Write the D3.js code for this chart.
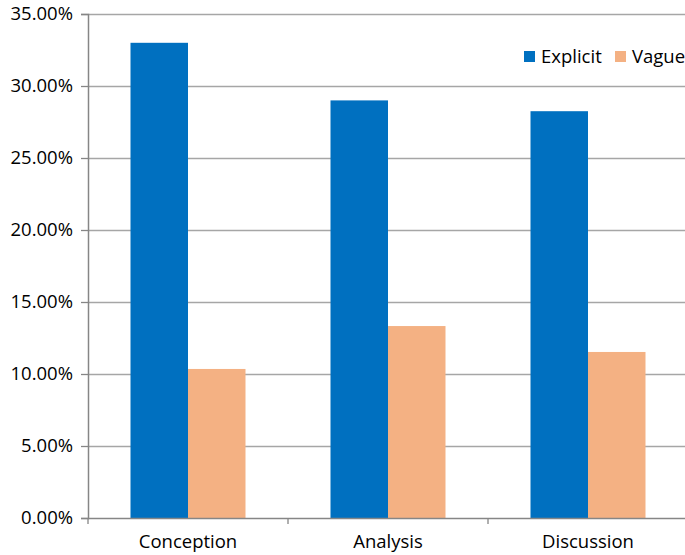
<!DOCTYPE html>
<html><head><meta charset="utf-8">
<script src="https://cdn.jsdelivr.net/npm/d3@7"></script>
<style>body{margin:0;background:#fff;overflow:hidden}svg{display:block}text{font-family:"Open Sans",Lato,sans-serif;fill:#000}</style>
</head><body>
<script>
const categories = ["Conception", "Analysis", "Discussion"];
const seriesNames = ["Explicit", "Vague"];
const explicitValues = [0.330, 0.290, 0.2825];
const vagueValues = [0.1035, 0.1333, 0.1153];
const yTicks = [0, 0.05, 0.10, 0.15, 0.20, 0.25, 0.30, 0.35];
const colors = ["#0070C0", "#F4B183"];

(function () {
const W = 685, H = 555, FS = "18.5px";
const mLeft = 88, mRight = 688, mTop = 14, mBottom = 518;
const svg = d3.select("body").append("svg").attr("width", W).attr("height", H);

const x0 = d3.scaleBand().domain(categories).range([mLeft, mRight]).paddingInner(0.425).paddingOuter(0.2125);
const x1 = d3.scaleBand().domain(seriesNames).range([0, x0.bandwidth()]);
const y = d3.scaleLinear().domain([0, 0.35]).range([mBottom, mTop]);
const color = d3.scaleOrdinal().domain(seriesNames).range(colors);

// gridlines
svg.append("g").selectAll("line").data(yTicks.filter(d => d > 0)).join("line")
  .attr("x1", mLeft).attr("x2", W).attr("y1", d => y(d) + 0.5).attr("y2", d => y(d) + 0.5)
  .attr("stroke", "#a6a6a6").attr("stroke-width", 1.3);

// bars
const data = categories.map((c, i) => ({c, vals: [explicitValues[i], vagueValues[i]]}));
const g = svg.append("g").selectAll("g").data(data).join("g")
  .attr("transform", d => `translate(${x0(d.c)},0)`);
g.selectAll("rect").data(d => d.vals.map((v, j) => ({s: seriesNames[j], v}))).join("rect")
  .attr("x", d => x1(d.s)).attr("width", x1.bandwidth())
  .attr("y", d => y(d.v)).attr("height", d => y(0) - y(d.v))
  .attr("fill", d => color(d.s));

// y axis
const yAxis = d3.axisLeft(y).tickValues(yTicks).tickSize(7).tickPadding(8)
  .tickFormat(d => (d * 100).toFixed(2) + "%");
const ya = svg.append("g").attr("transform", `translate(${mLeft},0)`).call(yAxis);
ya.select(".domain").attr("stroke", "#868686").attr("stroke-width", 1.5);
ya.selectAll(".tick line").attr("stroke", "#868686").attr("stroke-width", 1.3);
ya.selectAll(".tick text").style("font-size", FS).style("font-family", "'Open Sans',sans-serif").attr("fill", "#000");

// x axis
const xa = svg.append("g").attr("transform", `translate(0,${mBottom})`);
xa.append("line").attr("x1", mLeft).attr("x2", W).attr("y1", 0.5).attr("y2", 0.5)
  .attr("stroke", "#868686").attr("stroke-width", 1.5);
const tickPos = [mLeft, ...categories.map(c => x0(c) + x0.bandwidth() / 2 + x0.step() / 2)];
xa.selectAll("line.t").data(tickPos).join("line").attr("class", "t")
  .attr("x1", d => d).attr("x2", d => d).attr("y1", 0).attr("y2", 6)
  .attr("stroke", "#868686").attr("stroke-width", 1.3);
xa.selectAll("text").data(categories).join("text")
  .attr("x", d => x0(d) + x0.bandwidth() / 2).attr("y", 30)
  .attr("text-anchor", "middle").style("font-size", FS).text(d => d);

// legend
const lg = svg.append("g");
const legX = [524, 615];
seriesNames.forEach((s, i) => {
  lg.append("rect").attr("x", legX[i]).attr("y", 51).attr("width", 11).attr("height", 11).attr("fill", color(s));
  lg.append("text").attr("x", legX[i] + 17).attr("y", 63).style("font-size", FS).text(s);
});
})();
</script>
</body></html>
